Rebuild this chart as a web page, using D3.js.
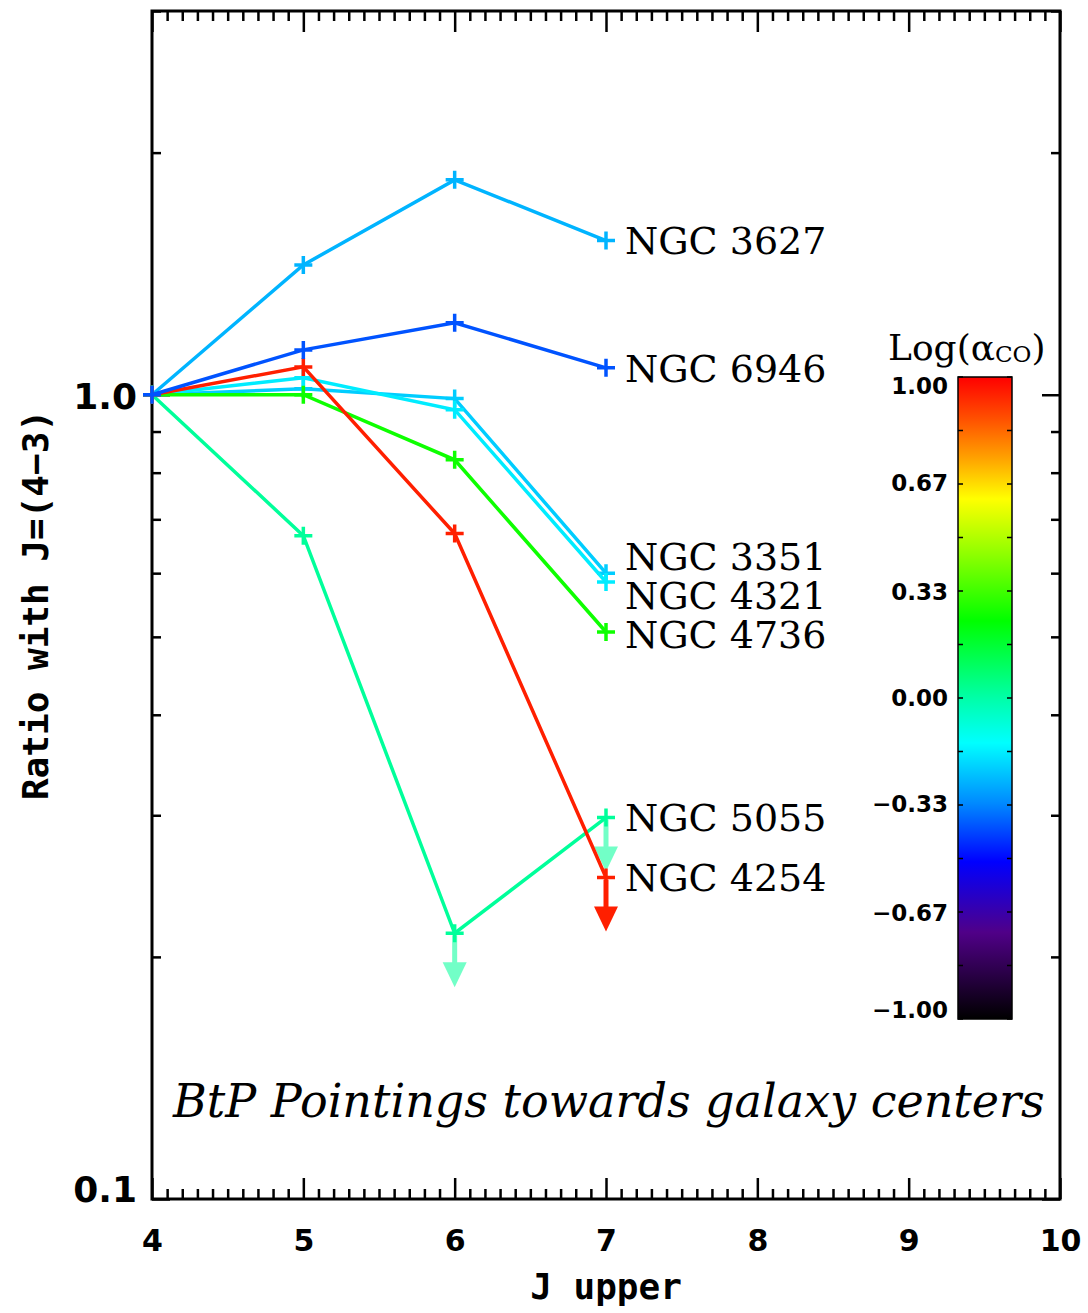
<!DOCTYPE html>
<html>
<head>
<meta charset="utf-8">
<script src="https://cdn.jsdelivr.net/npm/d3@7"></script>
<style>
  body { margin: 0; background: #fff; }
  .axis path.domain { display: none; }
  .axis line { stroke: #000; stroke-width: 2.5; }
  .axis text { font-family: 'DejaVu Sans', sans-serif; font-weight: bold; fill: #000; }
</style>
</head>
<body>
<div class="container"></div>
<script>
const jUpper = [4, 5, 6, 7];
const galaxies = ['NGC 3627', 'NGC 3351', 'NGC 4321', 'NGC 4736', 'NGC 5055', 'NGC 4254', 'NGC 6946'];
const logAlphaCO = [-0.26, -0.22, -0.17, 0.26, 0.02, 0.95, -0.40];
const ratios = [
  [1.0, 1.45, 1.85, 1.555],
  [1.0, 1.017, 0.989, 0.60],
  [1.0, 1.05, 0.958, 0.585],
  [1.0, 1.0, 0.83, 0.507],
  [1.0, 0.668, 0.214, 0.298],
  [1.0, 1.083, 0.672, 0.251],
  [1.0, 1.137, 1.229, 1.08],
];
// upper limits: [galaxy, J upper]
const upperLimits = [['NGC 5055', 6], ['NGC 5055', 7], ['NGC 4254', 7]];

const xTicks = [4, 5, 6, 7, 8, 9, 10];
const yLabelled = [0.1, 1];
const yMinor = [0.2, 0.3, 0.4, 0.5, 0.6, 0.7, 0.8, 0.9, 2, 3];
const cbTicks = [-1, -0.67, -0.33, 0, 0.33, 0.67, 1];

// rainbow colour table
const cmapStops = [-1, -0.73, -0.51, -0.33, -0.14, 0, 0.24, 0.45, 0.62, 0.75, 0.87, 1];
const cmapColors = ['#000000', '#500088', '#0000ff', '#0088ff', '#00ffff', '#00ffa8',
  '#00ff00', '#90ff00', '#ffff00', '#ffa000', '#ff5000', '#ff0000'];

const width = 1088;
const height = 1313;
const plot = { left: 152, right: 1060, top: 11, bottom: 1199 };

const xScale = d3.scaleLinear().domain([4, 10]).range([plot.left, plot.right]);
const yScale = d3.scaleLog().domain([0.1, 3]).range([plot.bottom, plot.top]);
const cmap = d3.scaleLinear().domain(cmapStops).range(cmapColors).interpolate(d3.interpolateRgb);

const svg = d3.select('.container')
  .append('svg')
  .attr('width', width)
  .attr('height', height);

// ---- axes ----
const minorX = d3.range(40, 101).map(d => d / 10).filter(d => d % 1 !== 0);

svg.append('g').attr('class', 'axis')
  .attr('transform', `translate(0, ${plot.bottom})`)
  .call(d3.axisBottom(xScale).tickValues(xTicks).tickSize(-21).tickSizeOuter(0).tickPadding(31)
    .tickFormat(d3.format('d')))
  .selectAll('text').style('font-size', '30px');
svg.append('g').attr('class', 'axis')
  .attr('transform', `translate(0, ${plot.bottom})`)
  .call(d3.axisBottom(xScale).tickValues(minorX).tickSize(-10).tickSizeOuter(0).tickFormat(''));
svg.append('g').attr('class', 'axis')
  .attr('transform', `translate(0, ${plot.top})`)
  .call(d3.axisTop(xScale).tickValues(xTicks).tickSize(-21).tickSizeOuter(0).tickFormat(''));
svg.append('g').attr('class', 'axis')
  .attr('transform', `translate(0, ${plot.top})`)
  .call(d3.axisTop(xScale).tickValues(minorX).tickSize(-10).tickSizeOuter(0).tickFormat(''));

svg.append('g').attr('class', 'axis')
  .attr('transform', `translate(${plot.left}, 0)`)
  .call(d3.axisLeft(yScale).tickValues(yLabelled).tickSize(-18).tickSizeOuter(0).tickPadding(15)
    .tickFormat(d3.format('.1f')))
  .selectAll('text')
  .style('font-size', '36px')
  .attr('dy', d => d === 0.1 ? '0.08em' : '0.38em');
svg.append('g').attr('class', 'axis')
  .attr('transform', `translate(${plot.left}, 0)`)
  .call(d3.axisLeft(yScale).tickValues(yMinor).tickSize(-9).tickSizeOuter(0).tickFormat(''));
svg.append('g').attr('class', 'axis')
  .attr('transform', `translate(${plot.right}, 0)`)
  .call(d3.axisRight(yScale).tickValues(yLabelled).tickSize(-18).tickSizeOuter(0).tickFormat(''));
svg.append('g').attr('class', 'axis')
  .attr('transform', `translate(${plot.right}, 0)`)
  .call(d3.axisRight(yScale).tickValues(yMinor).tickSize(-9).tickSizeOuter(0).tickFormat(''));

svg.append('rect')
  .attr('x', plot.left).attr('y', plot.top)
  .attr('width', plot.right - plot.left).attr('height', plot.bottom - plot.top)
  .attr('fill', 'none').attr('stroke', '#000').attr('stroke-width', 3);

// axis titles
svg.append('text')
  .attr('x', (plot.left + plot.right) / 2).attr('y', 1299)
  .attr('text-anchor', 'middle')
  .style('font-family', "'DejaVu Sans Mono', monospace").style('font-weight', 'bold').style('font-size', '36px')
  .text('J upper');
svg.append('text')
  .attr('transform', `translate(48, ${(plot.top + plot.bottom) / 2}) rotate(-90)`)
  .attr('text-anchor', 'middle')
  .style('font-family', "'DejaVu Sans Mono', monospace").style('font-weight', 'bold').style('font-size', '36px')
  .text('Ratio with J=(4−3)');

// ---- series ----
const series = galaxies.map((name, i) => ({
  name,
  color: cmap(logAlphaCO[i]),
  values: jUpper.map((j, k) => ({ j, r: ratios[i][k] })),
}));

const linePath = d3.line().x(d => xScale(d.j)).y(d => yScale(d.r));

const g = svg.append('g');
series.forEach(s => {
  const gs = g.append('g');
  gs.append('path')
    .attr('d', linePath(s.values))
    .attr('fill', 'none')
    .attr('stroke', s.color)
    .attr('stroke-width', 3.5);
  gs.selectAll('path.cross')
    .data(s.values)
    .enter()
    .append('path')
    .attr('class', 'cross')
    .attr('transform', d => `translate(${xScale(d.j)}, ${yScale(d.r)})`)
    .attr('d', 'M-9,0H9M0,-9V9')
    .attr('stroke', s.color)
    .attr('stroke-width', 3.5);

  upperLimits.filter(u => u[0] === s.name).forEach(u => {
    const v = s.values.find(d => d.j === u[1]);
    const px = xScale(v.j);
    const py = yScale(v.r);
    const op = s.name === 'NGC 5055' ? 0.55 : 1;
    const ga = gs.append('g').attr('transform', `translate(${px}, ${py})`).attr('opacity', op);
    ga.append('line').attr('x1', 0).attr('x2', 0).attr('y1', 2).attr('y2', 34)
      .attr('stroke', s.color).attr('stroke-width', 5);
    ga.append('path').attr('d', 'M-12,29L12,29L0,54Z').attr('fill', s.color);
  });
});

// labels at line ends, pushed apart where they collide
const gap = 39;
const labels = series.map(s => ({ name: s.name, y0: yScale(s.values[s.values.length - 1].r) }))
  .sort((a, b) => a.y0 - b.y0);
let clusters = labels.map(l => [l]);
let merged = true;
const pos = c => {
  const mean = d3.mean(c, l => l.y0);
  return c.map((l, k) => mean + (k - (c.length - 1) / 2) * gap);
};
while (merged) {
  merged = false;
  for (let i = 1; i < clusters.length; i++) {
    const a = pos(clusters[i - 1]);
    const b = pos(clusters[i]);
    if (b[0] - a[a.length - 1] < gap) {
      clusters.splice(i - 1, 2, clusters[i - 1].concat(clusters[i]));
      merged = true;
      break;
    }
  }
}
clusters.forEach(c => {
  const ys = pos(c);
  c.forEach((l, k) => { l.y = ys[k]; });
});
svg.append('g').selectAll('text')
  .data(labels)
  .enter()
  .append('text')
  .attr('x', xScale(7) + 19)
  .attr('y', d => d.y)
  .attr('dy', '0.36em')
  .style('font-family', "'DejaVu Serif', serif")
  .style('font-size', '38px')
  .text(d => d.name);

svg.append('text')
  .attr('x', 173).attr('y', 1117)
  .style('font-family', "'DejaVu Serif', serif")
  .style('font-style', 'italic')
  .style('font-size', '46px')
  .text('BtP Pointings towards galaxy centers');

// ---- colour bar ----
const cb = { x: 958, w: 54, top: 377, bottom: 1019 };
const cbScale = d3.scaleLinear().domain([-1, 1]).range([cb.bottom, cb.top]);
const grad = svg.append('defs').append('linearGradient')
  .attr('id', 'cbgrad').attr('x1', 0).attr('y1', 1).attr('x2', 0).attr('y2', 0);
grad.selectAll('stop')
  .data(cmapStops)
  .enter()
  .append('stop')
  .attr('offset', d => (d + 1) / 2)
  .attr('stop-color', (d, i) => cmapColors[i]);
svg.append('rect')
  .attr('x', cb.x).attr('y', cb.top).attr('width', cb.w).attr('height', cb.bottom - cb.top)
  .attr('fill', 'url(#cbgrad)').attr('stroke', '#000').attr('stroke-width', 1.5);
const cbMinor = d3.range(0, 13).map(k => -1 + k / 6);
svg.append('g').selectAll('path')
  .data(cbMinor)
  .enter()
  .append('path')
  .attr('d', d => `M${cb.x},${cbScale(d)}h5M${cb.x + cb.w},${cbScale(d)}h-5`)
  .attr('stroke', '#000').attr('stroke-width', 1.5);
svg.append('g').selectAll('text')
  .data(cbTicks)
  .enter()
  .append('text')
  .attr('x', cb.x - 10)
  .attr('y', d => Math.min(Math.max(cbScale(d), cb.top + 9), cb.bottom - 9))
  .attr('dy', '0.36em')
  .attr('text-anchor', 'end')
  .style('font-family', "'DejaVu Sans', sans-serif")
  .style('font-weight', 'bold')
  .style('font-size', '23px')
  .text(d => d3.format('.2f')(d).replace('-', '−'));

const cbTitle = svg.append('text')
  .attr('x', 888).attr('y', 360)
  .style('font-family', "'DejaVu Serif', serif")
  .style('font-size', '36px');
cbTitle.append('tspan').text('Log(α');
cbTitle.append('tspan').style('font-size', '23px').attr('dy', 2).text('CO');
cbTitle.append('tspan').attr('dy', -2).text(')');
</script>
</body>
</html>
